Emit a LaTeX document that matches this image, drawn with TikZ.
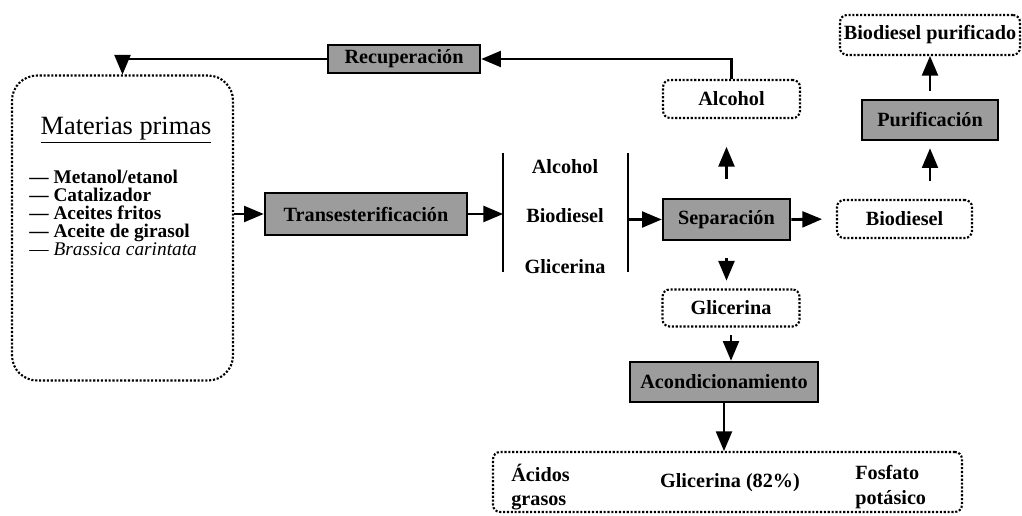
\documentclass[tikz,border=0pt]{standalone}
\usepackage{fontspec}
\setmainfont{Liberation Serif}
\usetikzlibrary{arrows}

\tikzset{
  Proceso/.style  = {draw, line width=1.6pt, fill=gray!78,
                     font=\fontsize{11.5}{12}\selectfont\bfseries, inner sep=0pt},
  Producto/.style = {draw, densely dotted, line width=1.2pt, rounded corners=4pt,
                     font=\fontsize{11.5}{12}\selectfont\bfseries, inner sep=0pt},
  Corriente/.style = {font=\fontsize{11.5}{14}\selectfont\bfseries, inner sep=0pt},
  Flecha/.style   = {-triangle 45, line width=1.6pt}
}

\begin{document}
\begin{tikzpicture}[x=0.02cm, y=-0.02cm]
\useasboundingbox (0,0) rectangle (1022,516);

% materias primas
\node[Producto, rounded corners=0.5cm, minimum width=4.42cm, minimum height=6.1cm] (MP) at (122.5,228) {};
\node[font=\fontsize{15}{15}\selectfont] (MPtit) at (126,130) {\underline{Materias primas}};
\node[anchor=west, align=left, inner sep=0pt,
      font=\fontsize{11}{10.2}\selectfont\bfseries] (MPlist) at (29,213)
  {— Metanol/etanol\\
   — Catalizador\\
   — Aceites fritos\\
   — Aceite de girasol\\
   \mdseries — \itshape Brassica carintata};

% procesos
\node[Proceso, minimum width=3.04cm, minimum height=0.56cm] (Rec)   at (404,59)      {Recuperación};
\node[Proceso, minimum width=4.04cm, minimum height=0.84cm] (Trans) at (366,214)     {Transesterificación};
\node[Proceso, minimum width=2.54cm, minimum height=0.82cm] (Sep)   at (726.5,219.5) {Separación};
\node[Proceso, minimum width=2.72cm, minimum height=0.8cm]  (Pur)   at (930,120)     {Purificación};
\node[Proceso, minimum width=3.76cm, minimum height=0.8cm]  (Acond) at (724,382)     {Acondicionamiento};

% productos
\node[Producto, minimum width=2.74cm, minimum height=0.76cm] (Alc)  at (731.5,99) {Alcohol};
\node[Producto, minimum width=2.7cm,  minimum height=0.76cm] (Bio)  at (904.5,219) {Biodiesel};
\node[Producto, minimum width=2.74cm, minimum height=0.74cm] (Gli)  at (731,308) {Glicerina};
\node[Producto, minimum width=3.6cm,  minimum height=0.8cm]  (BioP) at (930,35) {Biodiesel purificado};
\node[Producto, minimum width=9.38cm, minimum height=1.2cm]  (Res)  at (727.5,482) {};
\node[Corriente, anchor=west, align=left] (Acidos) at (511,487) {Ácidos\\grasos};
\node[Corriente]                          (Gli82)  at (730,483) {Glicerina (82\%)};
\node[Corriente, anchor=west, align=left] (Fosf)   at (855,487) {Fosfato\\potásico};

% mezcla de salida
\coordinate (B1t) at (503,153); \coordinate (B1b) at (503,272);
\coordinate (B2t) at (628,153); \coordinate (B2b) at (628,272);
\draw[line width=1.6pt] (B1t) -- (B1b);
\draw[line width=1.6pt] (B2t) -- (B2b);
\node[Corriente] (MAlc) at (565,167) {Alcohol};
\node[Corriente] (MBio) at (565,216) {Biodiesel};
\node[Corriente] (MGli) at (565,267) {Glicerina};

% flechas
\draw[Flecha] (MP.east |- Trans.west) -- (Trans.west);
\draw[Flecha] (Trans.east) -- (B1t |- Trans.east);
\draw[Flecha] (B2t |- Sep.west) -- (Sep.west);
\draw[Flecha, shorten <=10.8pt, shorten >=15.9pt] (Sep.north) -- (Sep.north |- Alc.south);
\draw[Flecha, shorten <=9.6pt, shorten >=4.5pt] (Sep.south) -- (Sep.south |- Gli.north);
\draw[Flecha, shorten >=8pt] (Sep.east) -- (Bio.west);
\draw[Flecha, shorten <=10pt, shorten >=4pt] (Pur.south |- Bio.north) -- (Pur.south);
\draw[Flecha, shorten <=4.5pt] (Pur.north) -- (Pur.north |- BioP.south);
\draw[Flecha, shorten <=4.5pt] (Gli.south) -- (Gli.south |- Acond.north);
\draw[Flecha] (Acond.south) -- (Acond.south |- Res.north);
\draw[Flecha] (Alc.north) |- (Rec.east);
\draw[Flecha] (Rec.west) -| (MP.north);

\end{tikzpicture}
\end{document}
